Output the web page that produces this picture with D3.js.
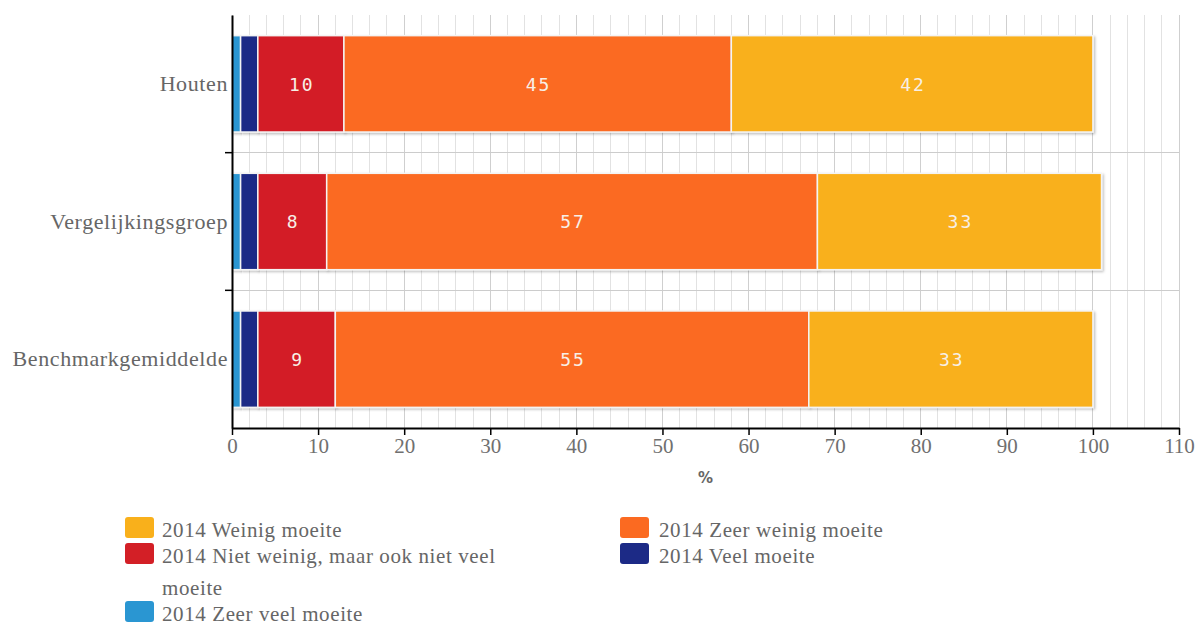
<!DOCTYPE html>
<html>
<head>
<meta charset="utf-8">
<script src="https://cdn.jsdelivr.net/npm/d3@7"></script>
<style>
  html, body { margin: 0; padding: 0; background: #ffffff; }
  svg { display: block; }
</style>
</head>
<body>
<svg id="chart" width="1204" height="626"></svg>
<script>
// ---------------- data ----------------
const categories = ["Houten", "Vergelijkingsgroep", "Benchmarkgemiddelde"];
const seriesNames = [
  "2014 Zeer veel moeite",
  "2014 Veel moeite",
  "2014 Niet weinig, maar ook niet veel moeite",
  "2014 Zeer weinig moeite",
  "2014 Weinig moeite"
];
const zeerVeelMoeite = [1, 1, 1];
const veelMoeite = [2, 2, 2];
const nietWeinigNietVeel = [10, 8, 9];
const zeerWeinigMoeite = [45, 57, 55];
const weinigMoeite = [42, 33, 33];
const seriesColors = ["#2a96d2", "#1c2a86", "#d31f26", "#fb6a21", "#f9b01b"];
const showLabel = [false, false, true, true, true];
const xTicks = [0, 10, 20, 30, 40, 50, 60, 70, 80, 90, 100, 110];
const xMinorTicks = d3.range(0, 111, 2);
const xTitle = "%";
// legend order (as in the picture)
const legendOrder = [4, 3, 2, 1, 0];

const seriesValues = [zeerVeelMoeite, veelMoeite, nietWeinigNietVeel, zeerWeinigMoeite, weinigMoeite];

// ---------------- layout ----------------
const svg = d3.select("#chart");
const margin = { left: 232, right: 25, top: 15, bottom: 198 };
const W = 1204, H = 626;
const innerW = W - margin.left - margin.right;
const innerH = H - margin.top - margin.bottom;

const x = d3.scaleLinear().domain([0, 110]).range([margin.left, margin.left + innerW]);
const y = d3.scaleBand().domain(categories).range([margin.top, margin.top + innerH]).paddingInner(0.3).paddingOuter(0.15);
const yBands = d3.scaleBand().domain(categories).range([margin.top, margin.top + innerH]);

const defs = svg.append("defs");
const f = defs.append("filter").attr("id", "shadow").attr("x", "-5%").attr("y", "-5%").attr("width", "115%").attr("height", "120%");
f.append("feDropShadow").attr("dx", 1.5).attr("dy", 1.5).attr("stdDeviation", 1.2).attr("flood-color", "#000").attr("flood-opacity", 0.25);

// grid
const grid = svg.append("g");
grid.selectAll("line.minor").data(xMinorTicks).join("line")
  .attr("x1", d => x(d)).attr("x2", d => x(d))
  .attr("y1", margin.top).attr("y2", margin.top + innerH)
  .attr("stroke", d => d % 10 === 0 ? "#cfcfcf" : "#e2e2e2").attr("stroke-width", 1)
  .attr("shape-rendering", "crispEdges");
grid.selectAll("line.h").data(categories.slice(1)).join("line")
  .attr("x1", margin.left).attr("x2", margin.left + innerW)
  .attr("y1", d => yBands(d)).attr("y2", d => yBands(d))
  .attr("stroke", "#cccccc").attr("stroke-width", 1)
  .attr("shape-rendering", "crispEdges");

// bars
const stackData = categories.map((c, i) => {
  let acc = 0;
  return seriesValues.map((vals, s) => {
    const seg = { cat: c, s, v: vals[i], x0: acc, x1: acc + vals[i] };
    acc += vals[i];
    return seg;
  });
});

const barG = svg.append("g");
stackData.forEach(row => {
  const g = barG.append("g");
  g.selectAll("rect").data(row).join("rect")
    .attr("x", d => x(d.x0)).attr("width", d => x(d.x1) - x(d.x0))
    .attr("y", d => y(d.cat)).attr("height", y.bandwidth())
    .attr("fill", d => seriesColors[d.s])
    .attr("stroke", "#f4f4f4").attr("stroke-width", 1.5)
    .attr("filter", "url(#shadow)");
  g.selectAll("text").data(row.filter(d => showLabel[d.s])).join("text")
    .attr("x", d => (x(d.x0) + x(d.x1)) / 2 + 1)
    .attr("y", d => y(d.cat) + y.bandwidth() / 2)
    .attr("dy", "0.38em")
    .attr("text-anchor", "middle")
    .attr("font-family", "DejaVu Sans Mono, monospace")
    .attr("font-size", 18)
    .attr("letter-spacing", 2)
    .attr("fill", "#f7efe6")
    .text(d => d.v);
});

// axes
const xAxis = d3.axisBottom(x).tickValues(xTicks).tickSize(7).tickSizeOuter(0).tickFormat(d3.format("d"));
const gx = svg.append("g").attr("transform", `translate(0,${margin.top + innerH})`).call(xAxis);
gx.select(".domain").attr("stroke", "#000").attr("stroke-width", 2);
gx.selectAll(".tick line").attr("stroke", "#000").attr("stroke-width", 1.5);
gx.selectAll(".tick text").attr("font-family", "Liberation Serif, serif").attr("font-size", 21)
  .attr("fill", "#707070").attr("y", 25).attr("dy", 0);

const yAxis = d3.axisLeft(yBands).tickSize(0).tickSizeOuter(0);
const gy = svg.append("g").attr("transform", `translate(${margin.left},0)`).call(yAxis);
gy.select(".domain").attr("stroke", "#000").attr("stroke-width", 2);
gy.selectAll(".tick text").attr("font-family", "Liberation Serif, serif").attr("font-size", 22)
  .attr("letter-spacing", 0.6)
  .attr("fill", "#666").attr("x", -4).attr("dy", "0.32em");
// boundary ticks
gy.selectAll("line.bt").data(categories.slice(1)).join("line").attr("class", "bt")
  .attr("x1", -7).attr("x2", 0).attr("y1", d => yBands(d)).attr("y2", d => yBands(d))
  .attr("stroke", "#000").attr("stroke-width", 1.5);

svg.append("text").attr("x", x(55)).attr("y", 483).attr("text-anchor", "middle")
  .attr("font-family", "DejaVu Sans, sans-serif").attr("font-weight", "bold").attr("font-size", 15)
  .attr("fill", "#666").text(xTitle);

// legend
const legendPos = [
  { sx: 125, sy: 517, tx: 162, ty: 537 },
  { sx: 620, sy: 517, tx: 659, ty: 537 },
  { sx: 125, sy: 543, tx: 162, ty: 563 },
  { sx: 620, sy: 543, tx: 659, ty: 563 },
  { sx: 125, sy: 601, tx: 162, ty: 621 }
];
const lg = svg.append("g");
legendOrder.forEach((s, i) => {
  const p = legendPos[i];
  lg.append("rect").attr("x", p.sx).attr("y", p.sy).attr("width", 29).attr("height", 21)
    .attr("rx", 3).attr("fill", seriesColors[s]);
  const t = lg.append("text").attr("x", p.tx).attr("y", p.ty)
    .attr("font-family", "Liberation Serif, serif").attr("font-size", 21)
    .attr("letter-spacing", 0.6).attr("fill", "#666");
  const name = seriesNames[s];
  if (name.length > 35) {
    const words = name.split(" ");
    const first = words.slice(0, -1).join(" ");
    t.append("tspan").attr("x", p.tx).text(first);
    t.append("tspan").attr("x", p.tx).attr("dy", 32).text(words[words.length - 1]);
  } else {
    t.text(name);
  }
});
</script>
</body>
</html>
